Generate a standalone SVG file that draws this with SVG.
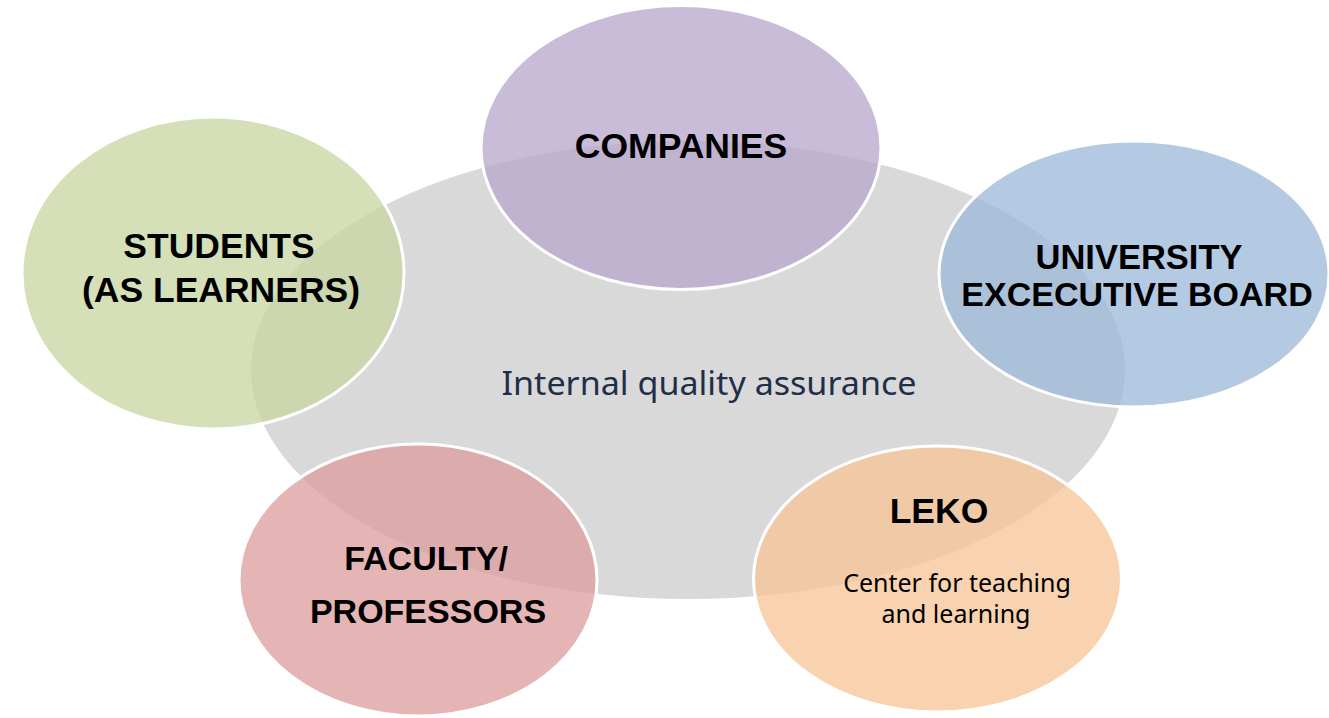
<svg xmlns="http://www.w3.org/2000/svg" width="1329" height="718" viewBox="0 0 1329 718">
<style>
.bub{stroke:#ffffff;stroke-width:3;fill-opacity:0.75}
.lbl{font-family:"Liberation Sans",Arial,sans-serif;font-weight:bold;font-size:35.5px;fill:#000000;text-anchor:middle}
.sub{font-family:"Noto Sans","Open Sans",sans-serif;font-size:25px;fill:#000000;text-anchor:middle}
.ctr{font-family:"Noto Sans","Open Sans",sans-serif;font-size:32px;fill:#1f2f4a;text-anchor:middle}
</style>
<rect x="0" y="0" width="1329" height="718" fill="#ffffff"/>
<g id="center">
<ellipse cx="688" cy="370" rx="437" ry="229" fill="#d9d9d9"/>
<text class="ctr" x="709" y="395" textLength="415" lengthAdjust="spacingAndGlyphs">Internal quality assurance</text>
</g>
<g id="connectors"></g>
<g id="companies">
<ellipse class="bub" cx="681" cy="147.5" rx="200" ry="142" fill="#b7a5cc"/>
<text class="lbl" x="681" y="158">COMPANIES</text>
</g>
<g id="students">
<ellipse class="bub" cx="213" cy="273" rx="191" ry="156" fill="#c7d5a1"/>
<text class="lbl" x="219" y="258">STUDENTS</text>
<text class="lbl" x="221" y="302">(AS LEARNERS)</text>
</g>
<g id="university">
<ellipse class="bub" cx="1134" cy="274" rx="195" ry="133" fill="#9bb7d8"/>
<text class="lbl" x="1139" y="269" style="font-size:34.5px">UNIVERSITY</text>
<text class="lbl" x="1137" y="306" style="font-size:34px">EXCECUTIVE BOARD</text>
</g>
<g id="faculty">
<ellipse class="bub" cx="418" cy="580" rx="179" ry="136" fill="#dc9b9c"/>
<text class="lbl" x="426" y="570" style="font-size:34px">FACULTY/</text>
<text class="lbl" x="428" y="623" style="font-size:34px">PROFESSORS</text>
</g>
<g id="leko">
<ellipse class="bub" cx="937.5" cy="579" rx="184" ry="133" fill="#f7c495"/>
<text class="lbl" x="939" y="523">LEKO</text>
<text class="sub" x="957" y="592">Center for teaching</text>
<text class="sub" x="956" y="623">and learning</text>
</g>
</svg>
